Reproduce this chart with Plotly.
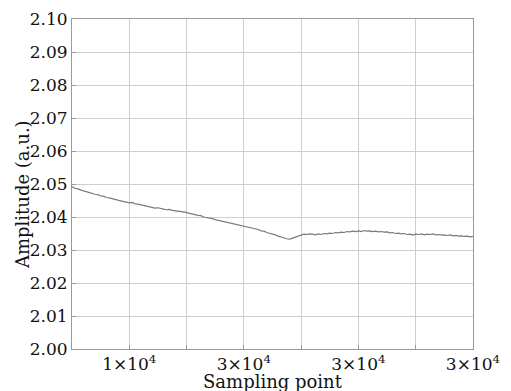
import numpy as np
import plotly.graph_objects as go

# Sampling points (x) and amplitude readings (y)
sample_start = 5000
sample_step = 250
amplitude = [
    2.0492, 2.0487, 2.0485, 2.0481, 2.0479, 2.0477, 2.0474, 2.0473, 2.0469, 2.0468,
    2.0464, 2.0463, 2.0459, 2.0458, 2.0455, 2.0453, 2.0451, 2.0449, 2.0447, 2.0446,
    2.0443,
    2.0444, 2.0440, 2.0439, 2.0437, 2.0436, 2.0432, 2.0431, 2.0430, 2.0427, 2.0428,
    2.0425, 2.0424, 2.0422, 2.0423, 2.0420, 2.0419, 2.0418, 2.0415, 2.0416, 2.0414,
    2.0411, 2.0410, 2.0407, 2.0405, 2.0404, 2.0400, 2.0399, 2.0396, 2.0395, 2.0392,
    2.0390, 2.0389, 2.0385, 2.0384, 2.0382, 2.0380, 2.0378, 2.0376, 2.0375, 2.0372,
    2.0370, 2.0368, 2.0366, 2.0363, 2.0362, 2.0358, 2.0357, 2.0353, 2.0351, 2.0348,
    2.0346, 2.0342, 2.0339, 2.0337, 2.0334, 2.0333,
    2.0336, 2.0340, 2.0344, 2.0346, 2.0348, 2.0347, 2.0349, 2.0348, 2.0346, 2.0349,
    2.0347, 2.0350, 2.0349, 2.0351, 2.0350, 2.0353, 2.0352, 2.0354, 2.0353, 2.0356,
    2.0355, 2.0357, 2.0356, 2.0358,
    2.0356, 2.0359, 2.0357, 2.0358, 2.0356, 2.0357, 2.0355, 2.0356, 2.0354, 2.0355,
    2.0352, 2.0353, 2.0350, 2.0351, 2.0349, 2.0350, 2.0347, 2.0348, 2.0345, 2.0348,
    2.0347, 2.0349, 2.0346, 2.0348, 2.0347, 2.0349, 2.0346, 2.0347, 2.0345, 2.0346,
    2.0344, 2.0346, 2.0343, 2.0344, 2.0342, 2.0343, 2.0341, 2.0342, 2.0340, 2.0341,
]
sampling_point = sample_start + sample_step * np.arange(len(amplitude))

x_tick_vals = [5000, 10000, 15000, 20000, 25000, 30000, 35000, 40000]
x_tick_text = ["", "1×10<sup>4</sup>", "", "3×10<sup>4</sup>", "",
               "3×10<sup>4</sup>", "", "3×10<sup>4</sup>"]
y_tick_vals = [2.00, 2.01, 2.02, 2.03, 2.04, 2.05, 2.06, 2.07, 2.08, 2.09, 2.10]
y_tick_text = [f"{v:.2f}" for v in y_tick_vals]
x_title = "Sampling point"
y_title = "Amplitude (a.u.)"

font_family = "DejaVu Serif"
text_color = "#111111"

fig = go.Figure()
fig.add_trace(go.Scatter(
    x=sampling_point, y=amplitude, mode="lines",
    line=dict(color="#7a7a7a", width=1.2),
    showlegend=False,
))

axis_common = dict(
    showgrid=True, gridcolor="#cfcfcf", gridwidth=1,
    showline=True, linecolor="#9a9a9a", linewidth=1, mirror=True,
    ticks="inside", ticklen=4, tickcolor="#9a9a9a",
    zeroline=False, automargin=False,
    tickfont=dict(family=font_family, size=17, color=text_color),
)

# page body has an 8px margin; size the figure so the plot area lands at
# x 72..473 and y 19..349 in the 511x391 window
fig.update_layout(
    width=503, height=383,
    margin=dict(l=64, r=38, t=11, b=42),
    paper_bgcolor="white", plot_bgcolor="white",
    xaxis=dict(range=[5000, 40000], tickvals=x_tick_vals, ticktext=x_tick_text,
               **axis_common),
    yaxis=dict(range=[2.00, 2.10], tickvals=y_tick_vals, ticktext=y_tick_text,
               **axis_common),
    annotations=[
        dict(text=x_title, xref="paper", yref="paper", x=0.5, y=0,
             xanchor="center", yanchor="top", yshift=-20, showarrow=False,
             font=dict(family=font_family, size=18, color=text_color)),
        dict(text=y_title, xref="paper", yref="paper", x=0, y=0.5,
             xanchor="center", yanchor="middle", xshift=-50, yshift=-11,
             textangle=-90, showarrow=False,
             font=dict(family=font_family, size=18, color=text_color)),
    ],
)

fig.write_html("out.html")
